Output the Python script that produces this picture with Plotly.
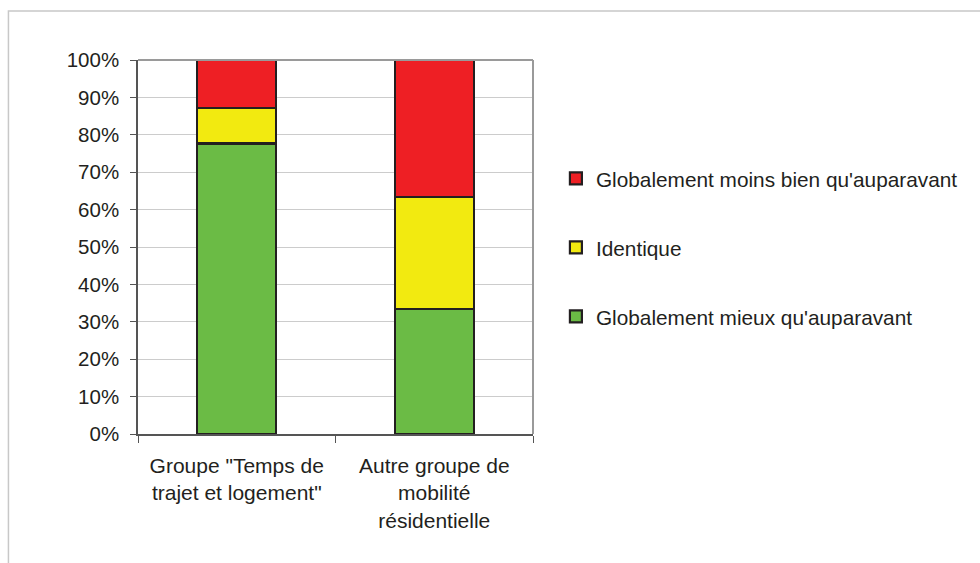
import plotly.graph_objects as go

# Stacked shares (%) per group
categories = [
    'Groupe "Temps de<br>trajet et logement"',
    "Autre groupe de<br>mobilité<br>résidentielle",
]
mieux = [77.7, 33.5]
identique = [9.4, 29.8]
moins_bien = [12.9, 36.7]

series_names = [
    "Globalement mieux qu'auparavant",
    "Identique",
    "Globalement moins bien qu'auparavant",
]
series_colors = ["#6BBB45", "#F2EA10", "#EE1F24"]
y_ticks = list(range(0, 101, 10))
y_tick_labels = [f"{v}%" for v in y_ticks]

FONT = "Liberation Sans, Arial, sans-serif"
TXT = "#231F20"

fig = go.Figure()
series_values = [mieux, identique, moins_bien]
for i, (name, vals, col) in enumerate(zip(series_names, series_values, series_colors)):
    fig.add_trace(go.Bar(
        x=categories, y=vals, name=name, legendgroup=f"g{i}",
        legendrank=len(series_names) - i,
        marker=dict(color=col, line=dict(color="#231F20", width=2.2)),
        hoverinfo="skip",
    ))

# plot area frame (top and right)
fig.add_shape(type="line", xref="paper", yref="paper", x0=0, x1=1, y0=1, y1=1,
              line=dict(color="#9A9A9A", width=2), layer="above")
fig.add_shape(type="line", xref="paper", yref="paper", x0=1, x1=1, y0=0, y1=1,
              line=dict(color="#9A9A9A", width=2), layer="above")
# outer chart frame
fig.add_shape(type="rect", xref="paper", yref="paper", x0=-0.328, x1=2.5, y0=1.131, y1=-0.6,
              line=dict(color="#C8C8C8", width=1.5), fillcolor="rgba(0,0,0,0)")

fig.update_layout(
    width=980, height=563,
    margin=dict(l=138, r=447, t=60, b=129),
    paper_bgcolor="white", plot_bgcolor="white",
    barmode="stack", bargap=0.6,
    font=dict(family=FONT, size=20.5, color=TXT),
    showlegend=True,
    legend=dict(
        x=1.058, xanchor="left", y=0.737, yanchor="top",
        traceorder="grouped", tracegroupgap=39,
        font=dict(family=FONT, size=20.8, color=TXT),
        bgcolor="rgba(0,0,0,0)",
    ),
    xaxis=dict(
        type="category", tickson="boundaries", ticks="outside", ticklen=7,
        tickcolor="#555", showline=True, linecolor="#555", linewidth=1.5,
        tickfont=dict(family=FONT, size=21, color=TXT), showgrid=False,
        ticklabelstandoff=12,
    ),
    yaxis=dict(
        range=[0, 100], tickvals=y_ticks, ticktext=y_tick_labels,
        ticks="outside", ticklen=6, tickcolor="#555",
        showline=True, linecolor="#555", linewidth=1.5,
        showgrid=True, gridcolor="#CCCCCC", gridwidth=1,
        tickfont=dict(family=FONT, size=20.5, color=TXT),
        ticklabelstandoff=7,
        zeroline=False,
    ),
)

fig.write_html("out.html")
